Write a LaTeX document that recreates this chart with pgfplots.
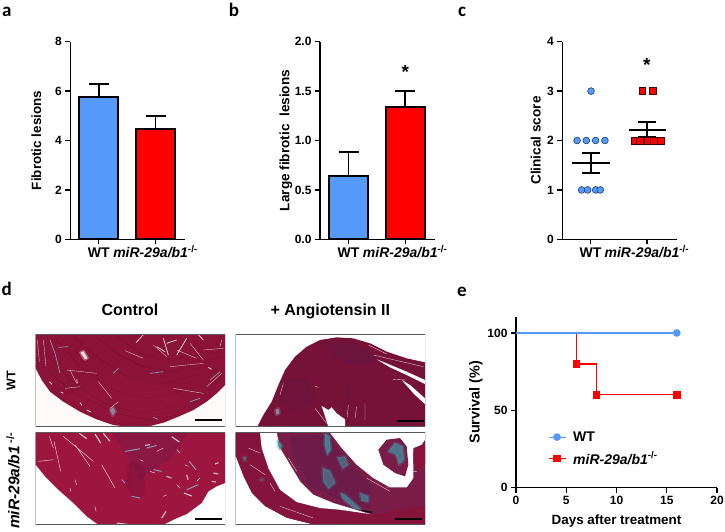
\documentclass[border=0pt]{standalone}
\usepackage{fontspec}
\setmainfont{Liberation Sans}
\newfontfamily\letterfont{Carlito}
\usepackage{pgfplots}
\pgfplotsset{compat=1.18}

\definecolor{wtblue}{HTML}{5599FB}
\definecolor{kored}{HTML}{FF0000}
\definecolor{edgeblue}{HTML}{1F3F6B}
\definecolor{tisA}{HTML}{8B1238}
\definecolor{tisB}{HTML}{761238}
\definecolor{tisC}{HTML}{9C1640}
\definecolor{tisD}{HTML}{7A1C48}
\definecolor{teal}{HTML}{3F9AA6}
\definecolor{greyblue}{HTML}{8E9AAE}
\definecolor{duskpurple}{HTML}{4A1D52}

\newcommand{\ko}{\textbf{\textit{miR-29a/b1}\textsuperscript{-/-}}}
\newcommand{\fs}[1]{\fontsize{#1}{#1}\selectfont}

\pgfplotsset{
  panel/.style={
    scale only axis, anchor=south west, clip=false,
    axis lines=left, axis line style={-,line width=1.5pt},
    tick align=outside, major tick length=5pt,
    tick style={black,line width=1.3pt},
    /pgf/number format/assume math mode=true,
    ticklabel style={font=\bfseries\fs{12}},
    ylabel style={anchor=center},
  },
  barpanel/.style={
    panel, width=114.7pt, height=197.6pt, ymin=0,
    xmin=0.497, xmax=2.52, xtick={1,2}, xticklabels={WT,\ko},
    xticklabel style={font=\bfseries\fs{14},text height=11pt,text depth=2pt,yshift=1pt},
  },
  bar/.style={
    ybar, bar shift=0pt, bar width=0.69, draw=black, line width=1.9pt, fill=#1,
    error bars/.cd, y dir=plus, y explicit,
    error bar style={line width=1.9pt,black},
    error mark options={black,line width=1.9pt,mark size=10pt,rotate=90},
  },
  histo/.style={
    hide axis, scale only axis, anchor=south west,
    width=189.3pt, xmin=17, xmax=585, y dir=reverse, unbounded coords=jump,
  },
  streak/.style={white,line width=#1,opacity=0.8},
  streak/.default=0.35pt,
  grain/.style={black,line width=0.3pt,opacity=0.16},
  soft/.style args={#1 at #2}{fill=#1,draw=#1,line width=3pt,line join=round,fill opacity=#2,draw opacity=0.4*#2},
  framebox/.style={draw=black!65,line width=1pt},
}

\begin{document}
\begin{tikzpicture}
\path[use as bounding box] (0,0) rectangle (725pt,531pt);

% panel letters
\node[anchor=base,font=\letterfont\bfseries\fs{19}] at (6.7pt,514.5pt) {a};
\node[anchor=base,font=\letterfont\bfseries\fs{19}] at (234pt,514.5pt) {b};
\node[anchor=base,font=\letterfont\bfseries\fs{19}] at (462pt,514.5pt) {c};
\node[anchor=base,font=\letterfont\bfseries\fs{19}] at (6.7pt,235.3pt) {d};
\node[anchor=base,font=\letterfont\bfseries\fs{19}] at (462pt,235pt) {e};

% a
\begin{axis}[barpanel, at={(70.3pt,291.7pt)}, ymax=8, ytick={0,2,4,6,8},
  ylabel={\bfseries\fs{13.4}Fibrotic lesions},
  ylabel style={at={(axis description cs:-0.297,0.5)}}]
\addplot[bar=wtblue] coordinates {(1,5.75) +- (0,0.55)};
\addplot[bar=kored] coordinates {(2,4.47) +- (0,0.53)};
\end{axis}

% b
\begin{axis}[barpanel, at={(320pt,291.7pt)}, ymax=2, ytick={0,0.5,1,1.5,2},
  yticklabel style={/pgf/number format/fixed,/pgf/number format/fixed zerofill,/pgf/number format/precision=1},
  ylabel={\bfseries\fs{13.6}Large fibrotic\ \ lesions},
  ylabel style={at={(axis description cs:-0.297,0.5)}}]
\addplot[bar=wtblue] coordinates {(1,0.64) +- (0,0.24)};
\addplot[bar=kored] coordinates {(2,1.34) +- (0,0.16)};
\node[font=\bfseries\fs{19}] at (axis cs:2,1.69) {*};
\end{axis}

% c
\begin{axis}[barpanel, at={(562.3pt,291.7pt)}, width=114.4pt, ymax=4, ytick={0,1,2,3,4},
  xmin=0.497, xmax=2.53,
  ylabel={\bfseries\fs{13.6}Clinical score},
  ylabel style={at={(axis description cs:-0.233,0.5)}}]
\addplot[only marks, mark=*, mark size=3.4pt, mark options={fill=wtblue,draw=edgeblue,line width=0.6pt}] coordinates {
  (1.007,3) (0.76,2) (0.924,2) (1.089,2) (1.254,2)
  (0.84,1) (0.947,1) (1.089,1) (1.172,1)};
\addplot[only marks, mark=square*, mark size=3.4pt, mark options={fill=kored,draw=black!75!red,line width=0.6pt}] coordinates {
  (1.92,3) (2.1,3) (1.775,2) (1.88,2) (2.01,2) (2.117,2) (2.254,2)};
\addplot[black, line width=1.8pt, unbounded coords=jump] coordinates {
  (0.675,1.544) (1.337,1.544) (nan,nan)
  (0.84,1.753) (1.17,1.753) (nan,nan)
  (0.84,1.336) (1.17,1.336) (nan,nan)
  (1,1.336) (1,1.753) (nan,nan)
  (1.68,2.22) (2.34,2.22) (nan,nan)
  (1.84,2.368) (2.165,2.368) (nan,nan)
  (1.84,2.077) (2.165,2.077) (nan,nan)
  (2,2.077) (2,2.368)};
\node[font=\bfseries\fs{19}] at (axis cs:2,3.53) {*};
\end{axis}

% d titles
\node[anchor=base,font=\bfseries\fs{16}] at (130pt,215.7pt) {Control};
\node[anchor=base,font=\bfseries\fs{16}] at (330.3pt,215.7pt) {+ Angiotensin II};
\node[rotate=90,font=\bfseries\fs{12.5}] at (11pt,150.3pt) {WT};
\node[rotate=90,font=\fs{15.5}] at (13pt,50.2pt) {\textbf{\textit{miR-29a/b1}\,\textsuperscript{-/-}}};

% d, WT control
\begin{axis}[histo, at={(35.7pt,104.3pt)}, height=92.7pt, ymin=12, ymax=290]
\addplot[fill=white!98!red,draw=none] coordinates {(17,12) (585,12) (585,290) (17,290)} -- cycle;
\addplot[fill=tisA,draw=none] coordinates {(17,12) (585,12) (585,165) (560,190) (530,215) (490,240) (440,262) (400,278) (360,288) (300,291) (250,285) (200,268) (150,245) (100,215) (60,185) (35,150) (17,115)} -- cycle;
\addplot[soft={tisC at 0.3}] coordinates {(100,200) (250,130) (420,170) (480,240) (360,280) (230,270)} -- cycle;
\addplot[grain,unbounded coords=jump] coordinates {
  (40,60) (120,150) (220,220) (330,250) (450,225) (nan,nan)
  (80,30) (150,110) (250,180) (350,205) (480,180) (nan,nan)
  (130,20) (200,80) (290,140) (380,165) (520,130) (nan,nan)
  (200,20) (260,70) (340,110) (430,125) (570,80) (nan,nan)
  (260,20) (330,70) (400,90) (500,75) (nan,nan)
  (60,130) (150,200) (260,250) (360,270) (470,250)};
\addplot[greyblue,line width=0.7pt,unbounded coords=jump] coordinates {(60,30) (75,70) (90,130) (nan,nan) (85,52) (115,50) (nan,nan) (400,125) (360,130) (nan,nan) (480,215) (510,205) (nan,nan) (575,30) (570,50) (nan,nan) (250,130) (265,115) (nan,nan) (370,262) (385,268) (nan,nan) (540,150) (570,125)};
\addplot[soft={white at 0.8}] coordinates {(152,68) (160,64) (172,84) (165,88)} -- cycle;
\addplot[soft={greyblue at 0.8}] coordinates {(240,240) (250,232) (256,245) (248,256)} -- cycle;
\addplot[streak,unbounded coords=jump] coordinates {
  (22,30) (28,95) (nan,nan) (40,30) (48,110) (nan,nan) (120,120) (140,160) (nan,nan)
  (205,155) (245,205) (nan,nan) (105,175) (150,170) (nan,nan) (110,120) (200,130) (nan,nan)
  (285,62) (340,85) (nan,nan) (420,110) (520,100) (nan,nan)
  (370,45) (410,80) (nan,nan) (440,60) (500,85) (nan,nan) (480,40) (520,90) (nan,nan)
  (430,175) (520,190) (nan,nan) (520,60) (580,55) (nan,nan)
  (240,235) (265,215) (nan,nan) (530,170) (575,130)};
\addplot[streak=0.8pt,unbounded coords=jump] coordinates {
  (318,38) (340,14) (nan,nan) (400,25) (415,75) (nan,nan) (410,40) (440,30) (nan,nan)
  (380,50) (405,65) (nan,nan) (440,75) (470,25) (nan,nan) (170,240) (182,246) (nan,nan)
  (140,148) (142,160) (nan,nan) (58,155) (66,163) (nan,nan) (150,218) (156,226) (nan,nan)
  (92,186) (100,190) (nan,nan) (505,14) (520,30) (nan,nan) (535,112) (545,118)};
\addplot[black,line width=2pt] coordinates {(495,270) (577,270)};
\addplot[framebox,fill=none] coordinates {(17,12) (585,12) (585,290) (17,290)} -- cycle;
\end{axis}

% d, WT angiotensin
\begin{axis}[histo, at={(235.7pt,104.3pt)}, height=92.7pt, ymin=12, ymax=290]
\addplot[fill=tisB,draw=none] coordinates {(82,290) (100,255) (125,215) (145,165) (165,120) (195,80) (230,50) (270,30) (320,22) (370,25) (420,40) (470,65) (530,85) (585,97) (585,290)} -- cycle;
\addplot[soft={duskpurple at 0.2}] coordinates {(290,40) (380,40) (440,90) (380,105) (320,80)} -- cycle;
\addplot[soft={duskpurple at 0.15}] coordinates {(165,150) (230,150) (250,210) (190,240) (150,210)} -- cycle;
\addplot[fill=white,draw=none] coordinates {(440,88) (470,100) (530,125) (585,150) (585,162) (530,135) (480,112)} -- cycle;
\addplot[fill=white,draw=none] coordinates {(515,150) (540,165) (585,205) (585,222) (555,195)} -- cycle;
\addplot[fill=white,draw=none] coordinates {(275,228) (295,240) (305,232) (320,250) (345,268) (345,290) (295,290)} -- cycle;
\addplot[streak,unbounded coords=jump] coordinates {
  (415,45) (470,72) (nan,nan) (430,75) (580,110) (nan,nan) (355,225) (352,260) (nan,nan)
  (405,220) (405,270) (nan,nan) (255,235) (290,280) (nan,nan) (380,230) (375,265) (nan,nan)
  (490,148) (530,150) (nan,nan) (255,168) (265,172) (nan,nan) (160,160) (150,195)};
\addplot[duskpurple,line width=0.8pt] coordinates {(350,165) (358,205)};
\addplot[soft={greyblue at 0.8}] coordinates {(137,240) (145,236) (148,250) (139,253)} -- cycle;
\addplot[black,line width=2pt] coordinates {(500,272) (582,272)};
\addplot[framebox,fill=none] coordinates {(17,12) (585,12) (585,290) (17,290)} -- cycle;
\end{axis}

% d, knockout control
\begin{axis}[histo, at={(35.7pt,6.3pt)}, height=92pt, ymin=14, ymax=290]
\addplot[fill=white,draw=none] coordinates {(17,14) (585,14) (585,290) (17,290)} -- cycle;
\addplot[fill=tisC,draw=none] coordinates {(17,14) (585,14) (585,165) (560,175) (535,190) (515,225) (470,258) (430,275) (400,290) (205,290) (170,265) (130,225) (85,185) (45,145) (17,110)} -- cycle;
\addplot[soft={duskpurple at 0.2}] coordinates {(250,14) (470,14) (420,90) (330,150) (300,90)} -- cycle;
\addplot[soft={tisB at 0.35}] coordinates {(300,100) (340,120) (340,200) (310,210) (290,170)} -- cycle;
\addplot[streak=1pt,unbounded coords=jump] coordinates {
  (195,18) (212,45) (nan,nan) (148,16) (170,32) (nan,nan) (220,16) (240,40) (nan,nan)
  (425,26) (448,42) (nan,nan) (470,140) (474,155) (nan,nan) (545,160) (558,162) (nan,nan)
  (462,195) (485,204) (nan,nan) (550,135) (565,138) (nan,nan) (410,145) (424,150) (nan,nan)
  (555,108) (565,104) (nan,nan) (345,52) (360,50) (nan,nan) (395,270) (408,250) (nan,nan)
  (260,285) (300,290)};
\addplot[streak=0.45pt,unbounded coords=jump] coordinates {
  (58,25) (70,60) (nan,nan) (72,40) (92,130) (nan,nan) (135,50) (180,115) (nan,nan)
  (25,100) (70,95) (nan,nan) (100,25) (190,100) (nan,nan) (215,110) (255,180) (nan,nan)
  (120,180) (122,190) (nan,nan) (135,155) (140,170) (nan,nan) (195,235) (198,250) (nan,nan)
  (400,205) (410,200) (nan,nan) (440,170) (450,180) (nan,nan)
  (330,95) (340,100) (nan,nan) (360,130) (375,135) (nan,nan) (500,160) (510,150) (nan,nan)
  (380,70) (400,60) (nan,nan) (465,110) (475,115)};
\addplot[greyblue,line width=1pt,unbounded coords=jump] coordinates {
  (285,70) (330,62) (nan,nan) (350,60) (380,52) (nan,nan) (478,100) (498,125) (nan,nan)
  (470,185) (505,170) (nan,nan) (275,155) (285,165) (nan,nan) (305,205) (330,210) (nan,nan)
  (440,65) (450,75) (nan,nan) (370,125) (395,130)};
\addplot[black,line width=2pt] coordinates {(495,272) (577,272)};
\addplot[framebox,fill=none] coordinates {(17,14) (585,14) (585,290) (17,290)} -- cycle;
\end{axis}

% d, knockout angiotensin
\begin{axis}[histo, at={(235.7pt,6.3pt)}, height=92pt, ymin=14, ymax=290]
\addplot[fill=tisD,draw=none] coordinates {(17,14) (585,14) (585,290) (250,290) (170,270) (105,235) (65,195) (40,145) (17,85)} -- cycle;
\addplot[fill=tisA,draw=none,opacity=0.7] coordinates {(17,14) (90,14) (95,60) (115,120) (150,185) (200,222) (270,240) (420,262) (585,230) (585,290) (250,290) (170,270) (105,235) (65,195) (40,145) (17,85)} -- cycle;
\addplot[soft={duskpurple at 0.25}] coordinates {(180,30) (290,20) (340,90) (420,170) (420,240) (330,215) (240,170) (200,100)} -- cycle;
\addplot[fill=white,draw=none] coordinates {(17,85) (40,145) (65,195) (105,235) (170,270) (250,290) (17,290)} -- cycle;
\addplot[fill=white,draw=none] coordinates {(90,14) (140,14) (150,60) (180,110) (210,160) (250,200) (310,225) (420,258) (330,245) (270,240) (200,222) (150,185) (115,120) (95,60)} -- cycle;
\addplot[fill=white,draw=none] coordinates {(300,14) (335,60) (380,110) (430,150) (480,178) (530,178) (550,150) (550,60) (575,50) (585,35) (585,14)} -- cycle;
\addplot[fill=tisD,draw=none] coordinates {(445,65) (470,35) (510,30) (530,55) (535,110) (525,145) (495,135) (460,110)} -- cycle;
\addplot[fill=tisA,draw=none] coordinates {(550,70) (575,50) (585,55) (585,110) (560,125) (550,105)} -- cycle;
\addplot[soft={teal at 0.75}] coordinates {(285,16) (298,25) (302,65) (292,80) (284,50)} -- cycle;
\addplot[soft={teal at 0.55}] coordinates {(278,120) (300,128) (316,165) (295,182) (280,160)} -- cycle;
\addplot[soft={teal at 0.55}] coordinates {(322,88) (345,85) (355,110) (338,122)} -- cycle;
\addplot[soft={teal at 0.6}] coordinates {(390,195) (415,205) (415,222) (395,218)} -- cycle;
\addplot[soft={teal at 0.65}] coordinates {(332,195) (345,200) (392,243) (375,243) (338,212)} -- cycle;
\addplot[soft={teal at 0.9}] coordinates {(143,38) (155,52) (150,64) (145,55)} -- cycle;
\addplot[soft={teal at 0.7}] coordinates {(495,45) (518,55) (522,95) (507,110) (498,80) (475,70)} -- cycle;
\addplot[soft={teal at 0.5}] coordinates {(40,87) (48,87) (46,98) (41,98)} -- cycle;
\addplot[soft={teal at 0.4}] coordinates {(90,152) (100,152) (98,158) (92,158)} -- cycle;
\addplot[streak,unbounded coords=jump] coordinates {
  (55,60) (90,75) (nan,nan) (60,110) (105,140) (nan,nan) (120,165) (135,190) (nan,nan)
  (175,90) (200,130) (nan,nan) (470,178) (530,160) (nan,nan) (530,130) (560,130) (nan,nan)
  (540,155) (545,130) (nan,nan) (150,235) (250,270) (nan,nan) (410,150) (480,190)};
\addplot[black,line width=1.2pt] coordinates {(395,247) (425,253)};
\addplot[black,line width=2pt] coordinates {(495,272) (577,272)};
\addplot[framebox,fill=none] coordinates {(17,14) (585,14) (585,290) (17,290)} -- cycle;
\end{axis}

% e
\begin{axis}[panel, at={(516pt,43.3pt)}, width=201pt, height=171pt,
  xmin=0, xmax=20, ymin=0, ymax=110.5,
  xtick={0,5,10,15,20}, ytick={0,50,100},
  xlabel={\bfseries\fs{13.4}Days after treatment},
  xlabel style={at={(axis description cs:0.5,-0.194)},anchor=center},
  ylabel={\bfseries\fs{14.4}Survival (\%)},
  ylabel style={at={(axis description cs:-0.199,0.5)}},
  reverse legend,
  legend style={draw=none,fill=none,at={(axis description cs:0.143,0.229)},anchor=west,
    font=\fs{14},row sep=5pt,nodes={anchor=west}},
  legend cell align=left]
\addplot[kored, line width=1.2pt, mark=square*, mark size=3.2pt, mark options={fill=kored,draw=kored}, mark indices={3,5,6},
  legend image post style={mark indices={2}}]
  coordinates {(0,100) (6,100) (6,80) (8,80) (8,60) (16,60)};
\addlegendentry{\hspace*{5pt}\ko}
\addplot[wtblue, line width=1.2pt, mark=*, mark size=3.2pt, mark options={fill=wtblue,draw=wtblue}, mark indices={2}]
  coordinates {(0,100) (16,100)};
\addlegendentry{\hspace*{5pt}\textbf{WT}}
\end{axis}
\end{tikzpicture}
\end{document}
